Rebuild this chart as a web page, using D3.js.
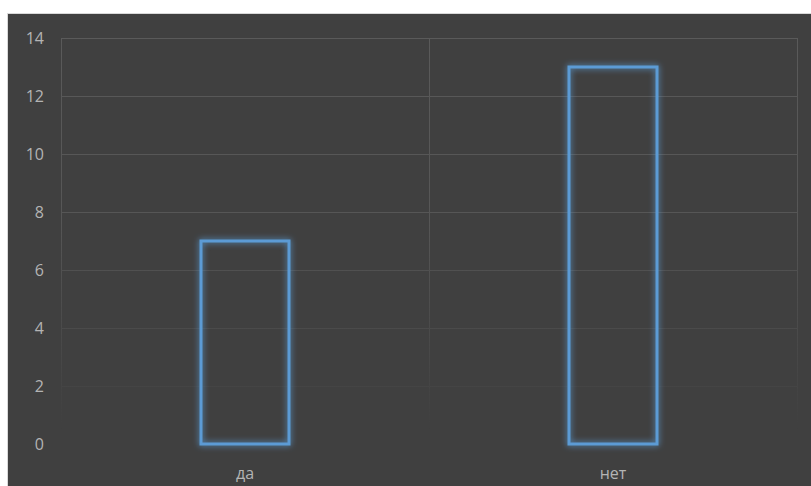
<!DOCTYPE html>
<html>
<head>
<meta charset="utf-8">
<script src="https://cdn.jsdelivr.net/npm/d3@7"></script>
<style>
  body { margin: 0; background: #fff; }
  svg { display: block; }
</style>
</head>
<body>
<div id="chart"></div>
<script>
  // chart data
  var categories = ["да", "нет"];
  var values = [7, 13];
  var yTicks = [0, 2, 4, 6, 8, 10, 12, 14];

  var W = 811, H = 486;
  var margin = {left: 61, right: 14, top: 38, bottom: 42};

  var svg = d3.select("#chart").append("svg")
    .attr("width", W).attr("height", H);

  var defs = svg.append("defs");

  // fade for gridlines toward the bottom
  var grad = defs.append("linearGradient")
    .attr("id", "fade").attr("x1", 0).attr("y1", 0).attr("x2", 0).attr("y2", 1);
  grad.append("stop").attr("offset", "0%").attr("stop-color", "#fff").attr("stop-opacity", 1);
  grad.append("stop").attr("offset", "45%").attr("stop-color", "#fff").attr("stop-opacity", 0.85);
  grad.append("stop").attr("offset", "96%").attr("stop-color", "#fff").attr("stop-opacity", 0);
  defs.append("mask").attr("id", "gridMask")
    .append("rect").attr("x", 0).attr("y", margin.top - 2)
    .attr("width", W).attr("height", H - margin.bottom - margin.top + 4)
    .attr("fill", "url(#fade)");

  // glow around bars
  var glow = defs.append("filter").attr("id", "glow")
    .attr("x", "-30%").attr("y", "-30%").attr("width", "160%").attr("height", "160%");
  glow.append("feGaussianBlur").attr("in", "SourceGraphic").attr("stdDeviation", 3).attr("result", "blur");
  var merge = glow.append("feMerge");
  merge.append("feMergeNode").attr("in", "blur");
  merge.append("feMergeNode").attr("in", "SourceGraphic");

  // background and border
  svg.append("rect").attr("x", 7.5).attr("y", 13.5)
    .attr("width", W).attr("height", H)
    .attr("fill", "#404040").attr("stroke", "#d9d9d9").attr("stroke-width", 1);

  var x = d3.scaleBand().domain(categories)
    .range([margin.left, W - margin.right]).paddingInner(0).paddingOuter(0);
  var y = d3.scaleLinear().domain([0, 14]).range([H - margin.bottom, margin.top]);

  var grid = svg.append("g").attr("mask", "url(#gridMask)");

  grid.selectAll(".hline").data(yTicks).enter().append("line")
    .attr("x1", margin.left).attr("x2", W - margin.right)
    .attr("y1", function(d){ return Math.round(y(d)) + 0.5; })
    .attr("y2", function(d){ return Math.round(y(d)) + 0.5; })
    .attr("stroke", "#5a5a5a").attr("stroke-width", 1);

  // category separators
  var seps = [margin.left].concat(categories.map(function(c){ return x(c) + x.bandwidth(); }));
  grid.selectAll(".vline").data(seps).enter().append("line")
    .attr("x1", function(d){ return Math.round(d) + 0.5; })
    .attr("x2", function(d){ return Math.round(d) + 0.5; })
    .attr("y1", margin.top).attr("y2", H - margin.bottom)
    .attr("stroke", "#5a5a5a").attr("stroke-width", 1);

  // y axis labels
  svg.selectAll(".ylab").data(yTicks).enter().append("text")
    .attr("x", 44).attr("y", function(d){ return y(d) + 5.5; })
    .attr("text-anchor", "end")
    .attr("font-family", "'Open Sans', 'Noto Sans', sans-serif")
    .attr("font-size", 16).attr("fill", "#b4b4b4")
    .text(function(d){ return d; });

  // x axis labels
  svg.selectAll(".xlab").data(categories).enter().append("text")
    .attr("x", function(d){ return x(d) + x.bandwidth() / 2; })
    .attr("y", H - 7)
    .attr("text-anchor", "middle")
    .attr("font-family", "'Open Sans', 'Noto Sans', sans-serif")
    .attr("font-size", 16).attr("fill", "#b4b4b4")
    .text(function(d){ return d; });

  // bars (outline only)
  var barW = 88;
  svg.selectAll(".bar").data(values).enter().append("rect")
    .attr("x", function(d, i){ return x(categories[i]) + x.bandwidth() / 2 - barW / 2; })
    .attr("y", function(d){ return y(d); })
    .attr("width", barW)
    .attr("height", function(d){ return y(0) - y(d); })
    .attr("fill", "none")
    .attr("stroke", "#5b9bd5").attr("stroke-width", 3)
    .attr("filter", "url(#glow)");
</script>
</body>
</html>
